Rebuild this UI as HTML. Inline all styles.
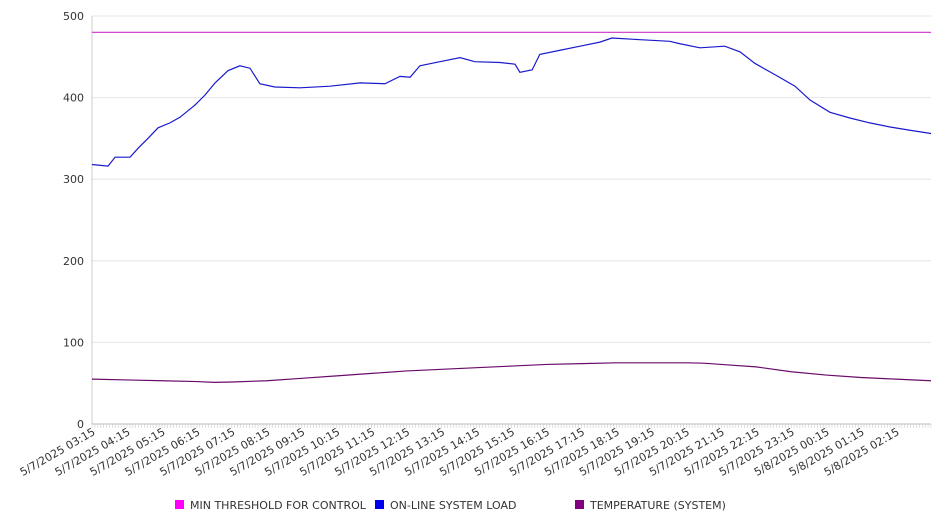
<!DOCTYPE html>
<html><head><meta charset="utf-8"><style>
body{margin:0;background:#fff;font-family:"Liberation Sans","DejaVu Sans",sans-serif;}
svg text{font-family:"DejaVu Sans","Liberation Sans",sans-serif;}
</style></head><body>
<svg id="chart" width="946" height="526" xmlns="http://www.w3.org/2000/svg"></svg>
<script>
const yTicks=[0,100,200,300,400,500];
const xLabels=["5/7/2025 03:15","5/7/2025 04:15","5/7/2025 05:15","5/7/2025 06:15","5/7/2025 07:15","5/7/2025 08:15","5/7/2025 09:15","5/7/2025 10:15","5/7/2025 11:15","5/7/2025 12:15","5/7/2025 13:15","5/7/2025 14:15","5/7/2025 15:15","5/7/2025 16:15","5/7/2025 17:15","5/7/2025 18:15","5/7/2025 19:15","5/7/2025 20:15","5/7/2025 21:15","5/7/2025 22:15","5/7/2025 23:15","5/8/2025 00:15","5/8/2025 01:15","5/8/2025 02:15"];
const threshold=480;
const loadHours=[0,0.46,0.66,1.09,1.32,1.6,1.89,2.23,2.52,2.95,3.23,3.52,3.89,4.23,4.52,4.8,5.23,5.95,6.81,7.67,8.38,8.81,9.1,9.38,9.95,10.53,10.95,11.67,12.1,12.24,12.59,12.81,13.39,13.96,14.53,14.87,15.68,16.53,16.82,17.39,18.1,18.54,18.96,19.54,20.11,20.54,21.11,21.68,22.25,22.83,23.4,24];
const loadVals=[318,316,327,327,338,350,363,369,376,391,403,418,433,439,436,417,413,412,414,418,417,426,425,439,444,449,444,443,441,431,434,453,458,463,468,473,471,469,466,461,463,456,442,428,414,397,382,375,369,364,360,356];
const tempHours=[0,1,2,3,3.5,4,5,6,7,8,9,10,11,12,13,14,15,16,17,17.5,18,19,20,21,22,23,24];
const tempVals=[55,54,53,52,51,51.5,53,56,59,62,65,67,69,71,73,74,75,75,75,74.5,73,70,64,60,57,55,53];
const NS="http://www.w3.org/2000/svg";
const svg=document.getElementById('chart');
const X0=92,X1=931,Y0=424,Y1=16;
const xs=h=>X0+h*(X1-X0)/24;
const ys=v=>Y0-v*(Y0-Y1)/500;
function mk(t,a){const e=document.createElementNS(NS,t);for(const k in a)e.setAttribute(k,a[k]);svg.appendChild(e);return e;}
yTicks.forEach(v=>{
  if(v>0){const g=mk('line',{x1:X0,x2:X1,y1:ys(v),y2:ys(v),stroke:'#e6e6e6','stroke-width':1});
  
  }
  const t=mk('text',{x:X0-8,y:ys(v)+4,'text-anchor':'end','font-size':11,fill:'#333'});t.textContent=v;
  
  
});
const ax=mk('line',{x1:X0,x2:X0,y1:Y1,y2:Y0,stroke:'#ccc'});


const bx=mk('line',{x1:X0,x2:X1,y1:Y0,y2:Y0,stroke:'#bbb'});


for(let i=0;i<=288;i++){const x=xs(i/12);const tk=mk('line',{x1:x,x2:x,y1:Y0,y2:Y0+4,stroke:'#ccc','stroke-width':0.6});

}
xLabels.forEach((l,i)=>{const x=xs(i)+4,y=Y0+10;
  const t=mk('text',{x:x,y:y,'text-anchor':'end','font-size':11,fill:'#333',transform:`rotate(-30 ${x} ${y})`});t.textContent=l;
  
  });
const th=mk('line',{x1:X0,x2:X1,y1:ys(threshold),y2:ys(threshold),stroke:'#cc33cc','stroke-width':1.2});


const lp=mk('polyline',{points:loadHours.map((h,i)=>xs(h)+','+ys(loadVals[i])).join(' '),fill:'none',stroke:'#1a1acc','stroke-width':1.2});


const tp=mk('polyline',{points:tempHours.map((h,i)=>xs(Math.min(h,24))+','+ys(tempVals[i])).join(' '),fill:'none',stroke:'#6a0a6a','stroke-width':1.2});


const leg=[["MIN THRESHOLD FOR CONTROL","#ff00ff",175],["ON-LINE SYSTEM LOAD","#0000ee",375],["TEMPERATURE (SYSTEM)","#800080",575]];
leg.forEach(([n,c,x])=>{
  const r=mk('rect',{x:x,y:500,width:9,height:9,fill:c});
  
  
  const t=mk('text',{x:x+15,y:509,'font-size':11,fill:'#333'});t.textContent=n;
  
  
});
</script>
</body></html>
